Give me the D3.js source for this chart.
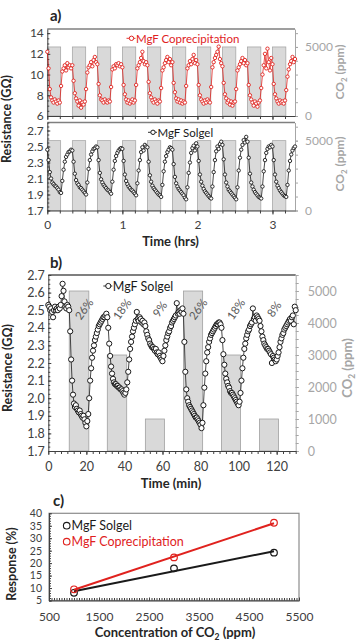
<!DOCTYPE html>
<html>
<head>
<meta charset="utf-8">
<script src="https://cdn.jsdelivr.net/npm/d3@7"></script>
<style>
body { margin: 0; background: #fff; }
</style>
</head>
<body>
<svg id="fig" width="358" height="644"></svg>
<script>
// ---------- data ----------
// panel a: resistance traces, one reading per minute from t = 0
const aStepMin = 1;
const aCoprec = [
  12.2,10.6,8.6,7.8,7.5,7.3,7.6,7.4,7.2,7.5,7.3,8.9,10.3,10.6,10.9,10.4,11.1,10.7,10.9,10.6,
  10.9,9.4,8.2,7.7,7.4,7.0,7.5,6.8,7.3,7.1,7.4,8.6,10.2,10.7,10.9,11.2,10.8,11.4,11.7,11.2,
  11.0,9.1,8.0,7.6,7.5,7.3,7.6,7.4,7.3,7.5,7.4,8.8,10.5,10.8,10.6,11.0,10.9,11.1,10.8,11.0,
  10.7,9.0,8.1,7.6,7.3,7.5,7.2,7.4,7.6,7.3,7.5,9.0,10.6,10.9,11.2,11.6,12.2,11.3,11.0,11.2,
  10.9,9.3,8.2,7.8,7.5,7.3,7.6,7.4,7.2,7.5,7.4,8.7,10.4,10.7,11.1,11.4,11.7,11.2,11.5,10.9,
  11.2,9.2,8.3,7.7,7.4,7.6,7.3,7.5,7.2,7.4,7.3,8.9,10.6,10.9,11.3,11.0,11.5,11.9,11.1,11.4,
  11.0,9.0,8.0,7.6,7.4,7.2,7.5,7.3,7.6,7.4,7.3,8.8,10.7,11.2,11.6,11.9,12.2,12.7,11.5,11.1,
  10.8,9.2,8.1,7.7,7.3,7.5,7.1,7.4,7.0,7.3,7.4,8.6,10.4,10.7,11.0,11.3,11.6,11.1,11.4,10.9,
  11.1,9.0,8.0,7.6,7.3,7.0,7.4,7.2,6.9,7.3,7.5,8.7,10.0,10.9,12.0,10.6,12.5,11.2,10.4,11.6,
  11.0,9.1,8.1,7.7,7.4,7.2,7.5,7.3,7.4,7.2,7.5,8.5,9.8,10.5,11.0,11.3,11.7,11.2,11.5
];
const aSolgel = [
  2.46,2.33,2.18,2.10,2.05,2.03,2.01,2.00,1.98,1.96,1.93,1.92,2.07,2.21,2.31,2.37,2.40,2.43,2.44,2.46,
  2.45,2.31,2.16,2.08,2.04,2.02,1.99,1.98,1.96,1.94,1.92,1.90,2.05,2.22,2.33,2.40,2.44,2.47,2.48,2.50,
  2.49,2.33,2.17,2.09,2.05,2.02,2.00,1.98,1.96,1.95,1.93,1.91,2.06,2.21,2.32,2.38,2.42,2.45,2.47,2.48,
  2.47,2.32,2.15,2.07,2.03,2.00,1.98,1.96,1.95,1.93,1.91,1.89,2.04,2.20,2.33,2.43,2.49,2.45,2.52,2.50,
  2.49,2.31,2.14,2.06,2.01,1.98,1.96,1.94,1.92,1.90,1.89,1.87,2.02,2.19,2.31,2.38,2.43,2.46,2.49,2.48,
  2.46,2.28,2.12,2.04,2.00,1.97,1.95,1.93,1.91,1.89,1.86,1.84,1.99,2.17,2.30,2.42,2.48,2.51,2.45,2.54,
  2.50,2.32,2.15,2.06,2.01,1.97,1.94,1.92,1.90,1.88,1.86,1.85,2.00,2.18,2.33,2.44,2.50,2.47,2.53,2.56,
  2.52,2.34,2.15,2.05,2.00,1.96,1.94,1.92,1.90,1.88,1.86,1.84,1.99,2.20,2.36,2.46,2.52,2.58,2.55,2.62,
  2.56,2.36,2.16,2.05,2.00,1.96,1.93,1.91,1.89,1.87,1.86,1.85,2.00,2.19,2.33,2.42,2.47,2.50,2.49,2.52,
  2.50,2.33,2.15,2.06,2.01,1.98,1.95,1.93,1.91,1.89,1.88,1.87,2.02,2.20,2.32,2.40,2.45,2.48,2.50
];
const aPulseStartMin = [0, 20, 40, 60, 80, 100, 120, 140, 160, 180];
const aPulseLenMin = 10.7;
const aPulsePpm = 5000;

// panel b: solgel trace, one reading every half minute from t = 0
const bStepMin = 0.5;
const bSolgel = [
  2.53,2.52,2.50,2.51,2.49,2.46,2.50,2.52,2.50,2.51,2.50,2.52,2.51,2.53,2.58,2.65,2.61,2.55,2.52,2.51,2.53,2.52,
  2.50,2.38,2.22,2.10,2.02,1.97,1.95,1.96,1.94,1.93,1.92,1.93,1.91,1.90,1.89,1.90,1.88,1.86,1.84,1.87,
  1.91,2.00,2.10,2.17,2.23,2.27,2.30,2.33,2.35,2.37,2.39,2.41,2.42,2.43,2.44,2.45,2.46,2.46,2.47,2.48,
  2.46,2.40,2.31,2.24,2.18,2.14,2.11,2.09,2.08,2.08,2.07,2.07,2.06,2.06,2.05,2.05,2.04,2.03,2.02,2.03,
  2.05,2.09,2.15,2.22,2.28,2.32,2.35,2.38,2.40,2.42,2.44,2.49,2.45,2.44,2.46,2.45,2.43,2.44,2.42,2.43,
  2.41,2.38,2.36,2.34,2.33,2.31,2.30,2.29,2.29,2.28,2.27,2.28,2.26,2.25,2.26,2.24,2.23,2.22,2.21,2.24,
  2.27,2.30,2.33,2.35,2.37,2.38,2.40,2.41,2.43,2.44,2.45,2.46,2.47,2.54,2.48,2.49,2.48,2.50,2.49,2.51,
  2.48,2.32,2.15,2.05,2.00,1.98,1.96,1.95,1.94,1.93,1.92,1.91,1.90,1.89,1.89,1.88,1.87,1.86,1.85,1.83,
  1.86,1.96,2.06,2.14,2.21,2.26,2.29,2.32,2.34,2.36,2.37,2.38,2.39,2.40,2.41,2.42,2.42,2.43,2.43,2.42,
  2.40,2.33,2.25,2.19,2.14,2.11,2.09,2.07,2.06,2.04,2.03,2.03,2.02,2.01,2.00,1.99,1.98,1.97,1.96,1.98,
  2.03,2.10,2.17,2.23,2.28,2.31,2.34,2.36,2.38,2.39,2.41,2.42,2.43,2.51,2.45,2.46,2.44,2.47,2.46,2.45,
  2.44,2.41,2.38,2.35,2.33,2.31,2.30,2.29,2.28,2.28,2.27,2.26,2.25,2.20,2.24,2.23,2.22,2.21,2.22,2.24,
  2.26,2.29,2.32,2.34,2.36,2.37,2.39,2.40,2.41,2.42,2.43,2.44,2.45,2.44,2.46,2.47,2.42,2.52,2.50
];
const bPulseStart = [11, 31, 51, 71, 91, 111];
const bPulseEnd = [21.3, 41.2, 61, 81.1, 101, 121];
const bPulsePpm = [5000, 3000, 1000, 5000, 3000, 1000];
const bPulseLabel = ["26%", "18%", "9%", "26%", "18%", "8%"];

// panel c: response vs concentration
const cConc = [1000, 3000, 5000];
const cSolgel = [8.1, 17.9, 24.2];
const cCoprec = [9.5, 22.3, 36.2];

// ---------- drawing ----------
const svg = d3.select("#fig");
const FONT = "Lato, 'Open Sans', sans-serif";
const DARK = "#404040", GREY = "#a6a6a6", RED = "#e0221e", INK = "#1a1a1a";
const BAR_FILL = "#d9d9d9", BAR_LINE = "#a0a0a0";
const fmtInt = d3.format("d");

// major axis with labels plus an optional unlabeled minor-tick axis, both at tf
function axis(gen, color, fs, tf, minorGen) {
  if (minorGen) {
    const m = svg.append("g").attr("transform", tf).call(minorGen.tickFormat(""));
    m.select(".domain").remove();
    m.selectAll(".tick line").attr("stroke", color);
  }
  const g = svg.append("g").attr("transform", tf).call(gen.tickSizeOuter(0));
  g.attr("font-family", FONT).attr("font-size", fs);
  g.select(".domain").attr("stroke", color);
  g.selectAll(".tick line").attr("stroke", color);
  g.selectAll(".tick text").attr("fill", color);
  return g;
}

function label(txt, x, y, opts) {
  const o = Object.assign({size: 12, weight: "bold", fill: "#262626", rot: 0, anchor: "middle"}, opts);
  return svg.append("text")
    .attr("transform", `translate(${x},${y}) rotate(${o.rot})`)
    .attr("text-anchor", o.anchor)
    .attr("font-family", FONT)
    .attr("font-size", o.size)
    .attr("font-weight", o.weight)
    .attr("fill", o.fill)
    .text(txt);
}

function co2Title(x, y, size) {
  const t = label("", x, y, {size: size, fill: GREY, rot: -90});
  t.append("tspan").text("CO");
  t.append("tspan").attr("font-size", size * 0.65).attr("dy", 3).text("2");
  t.append("tspan").attr("dy", -3).text(" (ppm)");
}

function trace(values, stepMin, xOf, y, color, r, sw) {
  const pts = values.map((v, i) => [xOf(i * stepMin), y(v)]);
  svg.append("path")
    .attr("d", d3.line()(pts))
    .attr("fill", "none")
    .attr("stroke", color)
    .attr("stroke-width", 0.8);
  svg.append("g").selectAll("circle")
    .data(pts)
    .enter()
    .append("circle")
    .attr("cx", d => d[0])
    .attr("cy", d => d[1])
    .attr("r", r)
    .attr("fill", "#fff")
    .attr("stroke", color)
    .attr("stroke-width", sw);
}

function legendKey(x, y, txt, color, r, fs) {
  svg.append("line").attr("x1", x - 5).attr("x2", x + 4).attr("y1", y).attr("y2", y)
    .attr("stroke", color).attr("stroke-width", 0.9);
  svg.append("circle").attr("cx", x).attr("cy", y).attr("r", r)
    .attr("fill", "#fff").attr("stroke", color).attr("stroke-width", 1);
  svg.append("text").attr("x", x + 4.5).attr("y", y).attr("dominant-baseline", "central")
    .attr("font-family", FONT).attr("font-size", fs).attr("fill", color).text(txt);
}

// ===== panel a =====
const xA = d3.scaleLinear().domain([0, 3.3]).range([47.3, 295]);
const xAmin = m => xA(m / 60);
const subs = [
  {yR: d3.scaleLinear().domain([6, 14.4]).range([116, 29]),
   yC: d3.scaleLinear().domain([0, 6300]).range([116, 29]),
   ticks: [6, 8, 10, 12, 14], minorStep: 0.5, fmt: fmtInt,
   data: aCoprec, color: RED, key: "MgF Coprecipitation", keyX: 131.5, keyY: 38.3, xLabels: false},
  {yR: d3.scaleLinear().domain([1.7, 2.8]).range([210.5, 122.5]),
   yC: d3.scaleLinear().domain([0, 6300]).range([210.5, 122.5]),
   ticks: [1.7, 1.9, 2.1, 2.3, 2.5, 2.7], minorStep: 0.05, fmt: d3.format(".1f"),
   data: aSolgel, color: INK, key: "MgF Solgel", keyX: 153, keyY: 132.3, xLabels: true}
];

subs.forEach(s => {
  const [yBot, yTop] = s.yR.range();
  svg.append("g").selectAll("rect")
    .data(aPulseStartMin)
    .enter()
    .append("rect")
    .attr("x", d => xAmin(d))
    .attr("width", d => xAmin(d + aPulseLenMin) - xAmin(d))
    .attr("y", s.yC(aPulsePpm))
    .attr("height", yBot - s.yC(aPulsePpm))
    .attr("fill", BAR_FILL)
    .attr("stroke", BAR_LINE)
    .attr("stroke-width", 0.7);

  svg.append("line").attr("x1", xA.range()[0]).attr("x2", xA.range()[1])
    .attr("y1", yTop).attr("y2", yTop).attr("stroke", "#7f7f7f").attr("stroke-width", 1.4);

  const [d0, d1] = s.yR.domain();
  axis(d3.axisLeft(s.yR).tickValues(s.ticks).tickFormat(s.fmt).tickSize(-3).tickPadding(3.5),
    DARK, 12, `translate(${xA.range()[0]},0)`,
    d3.axisLeft(s.yR).tickValues(d3.range(d0, d1 + 1e-9, s.minorStep)).tickSize(-2));

  axis(d3.axisRight(s.yC).tickValues([0, 5000]).tickFormat(fmtInt).tickSize(3).tickPadding(7),
    GREY, 12, `translate(${xA.range()[1]},0)`,
    d3.axisRight(s.yC).tickValues(d3.range(0, 6001, 1000)).tickSize(3));

  axis(d3.axisBottom(xA).tickValues([0, 1, 2, 3]).tickSize(4).tickPadding(6)
      .tickFormat(s.xLabels ? fmtInt : ""),
    DARK, 12, `translate(0,${yBot})`,
    d3.axisBottom(xA).tickValues(d3.range(0, 3.31, 1 / 6)).tickSize(3));

  trace(s.data, aStepMin, xAmin, s.yR, s.color, 1.7, 0.9);
  legendKey(s.keyX, s.keyY, s.key, s.color, 2.2, 11.5);
});

label("a)", 50, 21, {size: 15, anchor: "start"});
label("Resistance (G\u03a9)", 10.5, 119, {size: 12.5, rot: -90});
co2Title(344, 72, 12);
co2Title(344, 164, 12);
label("Time (hrs)", 170.5, 246, {size: 13});

// ===== panel b =====
const xB = d3.scaleLinear().domain([0, 130]).range([48.3, 295.7]);
const yB = d3.scaleLinear().domain([1.7, 2.7]).range([451, 275]);
const yBc = d3.scaleLinear().domain([0, 5500]).range([451, 275]);

svg.append("g").selectAll("rect")
  .data(bPulseStart)
  .enter()
  .append("rect")
  .attr("x", d => xB(d))
  .attr("width", (d, i) => xB(bPulseEnd[i]) - xB(d))
  .attr("y", (d, i) => yBc(bPulsePpm[i]))
  .attr("height", (d, i) => 451 - yBc(bPulsePpm[i]))
  .attr("fill", BAR_FILL)
  .attr("stroke", BAR_LINE)
  .attr("stroke-width", 0.8);

svg.append("line").attr("x1", 48.3).attr("x2", 295.7).attr("y1", 275).attr("y2", 275)
  .attr("stroke", "#7f7f7f").attr("stroke-width", 2);

axis(d3.axisLeft(yB).tickValues(d3.range(1.7, 2.71, 0.1)).tickFormat(d3.format(".1f"))
    .tickSize(-3).tickPadding(3.5),
  DARK, 12.5, "translate(48.3,0)",
  d3.axisLeft(yB).tickValues(d3.range(1.7, 2.701, 0.025)).tickSize(-2));

axis(d3.axisRight(yBc).tickValues(d3.range(0, 5001, 1000)).tickFormat(fmtInt).tickSize(3).tickPadding(9),
  GREY, 12.5, "translate(295.7,0)",
  d3.axisRight(yBc).tickValues(d3.range(0, 5501, 250)).tickSize(3));

axis(d3.axisBottom(xB).tickValues(d3.range(0, 121, 20)).tickFormat(fmtInt).tickSize(4).tickPadding(7.5),
  DARK, 12.5, "translate(0,451)",
  d3.axisBottom(xB).tickValues(d3.range(0, 130.1, 20 / 6)).tickSize(3));

svg.append("g").selectAll("text")
  .data(bPulseLabel)
  .enter()
  .append("text")
  .attr("transform", (d, i) => `translate(${xB((bPulseStart[i] + bPulseEnd[i]) / 2 + 2.5)},309) rotate(-55)`)
  .attr("text-anchor", "middle")
  .attr("dominant-baseline", "central")
  .attr("font-family", FONT)
  .attr("font-size", 11.5)
  .attr("fill", "#595959")
  .text(d => d);

trace(bSolgel, bStepMin, xB, yB, INK, 2.6, 1);
legendKey(108.3, 286, "MgF Solgel", INK, 2.6, 12.5);

label("b)", 50, 268, {size: 15, anchor: "start"});
label("Resistance (G\u03a9)", 12, 368, {size: 12.5, rot: -90});
co2Title(352, 368, 13);
label("Time (min)", 171, 488, {size: 13});

// ===== panel c =====
const xC = d3.scaleLinear().domain([500, 5500]).range([49, 299]);
const yCr = d3.scaleLinear().domain([5, 40]).range([600.5, 513.3]);

svg.append("rect").attr("x", 49).attr("y", 513.3).attr("width", 250).attr("height", 87.2)
  .attr("fill", "none").attr("stroke", "#8c8c8c").attr("stroke-width", 1.2);

axis(d3.axisLeft(yCr).tickValues(d3.range(5, 41, 5)).tickFormat(fmtInt).tickSize(-3).tickPadding(7),
  DARK, 10.5, "translate(49,0)",
  d3.axisLeft(yCr).tickValues(d3.range(5, 41, 1)).tickSize(-2));

axis(d3.axisBottom(xC).tickValues(d3.range(500, 5501, 1000)).tickFormat(fmtInt).tickSize(-3).tickPadding(12),
  DARK, 12, "translate(0,600.5)",
  d3.axisBottom(xC).tickValues(d3.range(500, 5501, 50)).tickSize(-2.5));

function linFit(xs, ys) {
  const mx = d3.mean(xs), my = d3.mean(ys);
  const slope = d3.sum(xs, (x, i) => (x - mx) * (ys[i] - my)) / d3.sum(xs, x => (x - mx) ** 2);
  return x => my + slope * (x - mx);
}

[[cSolgel, INK], [cCoprec, RED]].forEach(([ys, color]) => {
  const f = linFit(cConc, ys);
  const ext = d3.extent(cConc);
  svg.append("line")
    .attr("x1", xC(ext[0])).attr("y1", yCr(f(ext[0])))
    .attr("x2", xC(ext[1])).attr("y2", yCr(f(ext[1])))
    .attr("stroke", color).attr("stroke-width", 2);
  svg.append("g").selectAll("circle")
    .data(cConc)
    .enter()
    .append("circle")
    .attr("cx", d => xC(d))
    .attr("cy", (d, i) => yCr(ys[i]))
    .attr("r", 3.3)
    .attr("fill", "none")
    .attr("stroke", color)
    .attr("stroke-width", 1.2);
});

[["MgF Solgel", INK, 525.7], ["MgF Coprecipitation", RED, 541.7]].forEach(([txt, color, y]) => {
  svg.append("circle").attr("cx", 66.7).attr("cy", y).attr("r", 3.3)
    .attr("fill", "none").attr("stroke", color).attr("stroke-width", 1.1);
  svg.append("text").attr("x", 71.5).attr("y", y).attr("dominant-baseline", "central")
    .attr("font-family", FONT).attr("font-size", 12.5).attr("fill", color).text(txt);
});

label("c)", 53, 506, {size: 15, anchor: "start"});
label("Response (%)", 16, 564, {size: 12.5, rot: -90});
const ct = label("", 175, 637, {size: 13});
ct.append("tspan").text("Concentration of CO");
ct.append("tspan").attr("font-size", 8.5).attr("dy", 3).text("2");
ct.append("tspan").attr("dy", -3).text(" (ppm)");
</script>
</body>
</html>
